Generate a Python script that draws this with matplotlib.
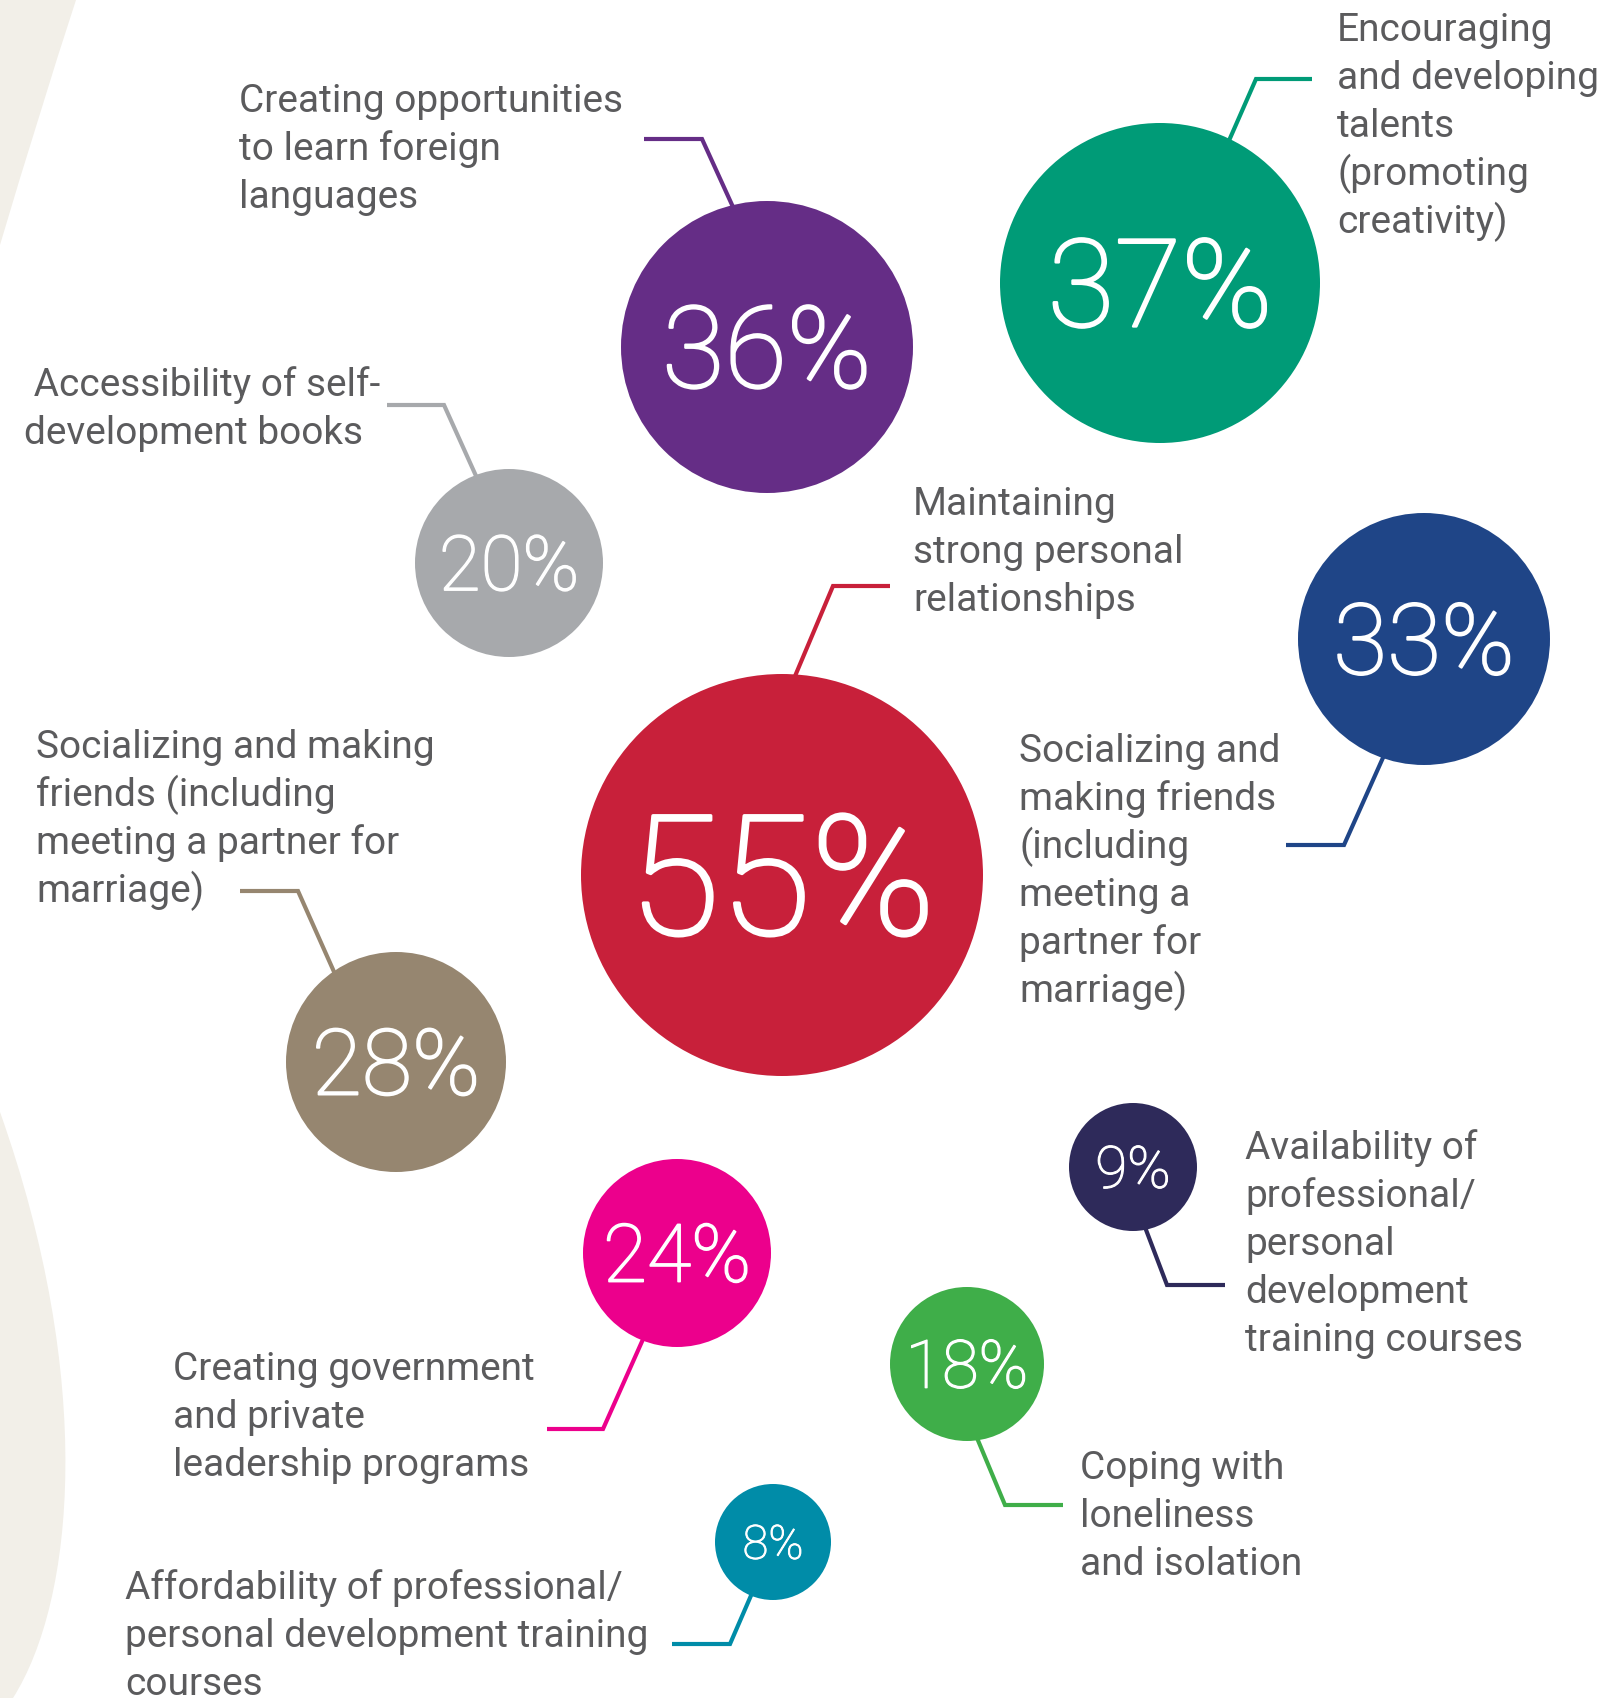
import matplotlib.pyplot as plt
import matplotlib.patheffects as pe
from matplotlib.patches import Circle, PathPatch
from matplotlib.path import Path

# survey shares (%), one bubble each
values = [36, 37, 20, 55, 33, 28, 24, 9, 18, 8]
labels = [
    ["Creating opportunities", "to learn foreign", "languages"],
    ["Encouraging", "and developing", "talents", "(promoting", "creativity)"],
    [" Accessibility of self-", "development books"],
    ["Maintaining", "strong personal", "relationships"],
    ["Socializing and", "making friends", "(including", "meeting a", "partner for", "marriage)"],
    ["Socializing and making", "friends (including", "meeting a partner for", "marriage)"],
    ["Creating government", "and private", "leadership programs"],
    ["Availability of", "professional/", "personal", "development", "training courses"],
    ["Coping with", "loneliness", "and isolation"],
    ["Affordability of professional/", "personal development training", "courses"],
]
colors = ["#652d86", "#009b77", "#a7a9ac", "#c8203a", "#1f4587",
          "#968670", "#ec008c", "#2e2a5a", "#3fae49", "#008ca8"]

# layout in pixels (x right, y down)
centers = [(767, 347), (1160, 283), (509, 563), (782, 875), (1424, 639),
           (396, 1062), (677, 1253), (1133, 1167), (967, 1364), (773, 1542)]
radii = [146, 160, 94, 201, 126, 110, 94, 64, 77, 58]
pct_size = [82, 88, 55, 120, 71, 66, 58, 42, 48, 34]
leaders = [
    [(738, 218), (702, 139), (644, 139)],
    [(1224, 152), (1256, 79), (1312, 79)],
    [(481, 487), (444, 405), (387, 405)],
    [(790, 688), (833, 586), (890, 586)],
    [(1390, 742), (1344, 845), (1286, 845)],
    [(339, 983), (298, 891), (240, 891)],
    [(648, 1328), (603, 1429), (547, 1429)],
    [(1140, 1214), (1167, 1285), (1225, 1285)],
    [(972, 1426), (1005, 1505), (1063, 1505)],
    [(756, 1584), (730, 1644), (672, 1644)],
]
text_pos = [(239, 112), (1337, 41), (24, 396), (913, 515), (1019, 762),
            (36, 758), (173, 1380), (1245, 1159), (1080, 1479), (125, 1599)]
line_gap = 48

W, H = 1621, 1698
fig = plt.figure(figsize=(W / 100, H / 100), dpi=100)
ax = fig.add_axes([0, 0, 1, 1])
ax.set_xlim(0, W)
ax.set_ylim(H, 0)
ax.axis("off")

# beige background swooshes on the left edge
beige = "#f2efe8"
top = Path([(0, 0), (76, 0), (40, 110), (0, 245), (0, 0)],
           [Path.MOVETO, Path.LINETO, Path.CURVE3, Path.CURVE3, Path.CLOSEPOLY])
ax.add_patch(PathPatch(top, fc=beige, ec="none", zorder=0))
bottom = Path([(0, 1112), (95, 1380), (75, 1600), (13, 1698), (0, 1698), (0, 1112)],
              [Path.MOVETO, Path.CURVE4, Path.CURVE4, Path.CURVE4, Path.LINETO, Path.CLOSEPOLY])
ax.add_patch(PathPatch(bottom, fc=beige, ec="none", zorder=0))

for i, v in enumerate(values):
    cx, cy = centers[i]
    xs, ys = zip(*leaders[i])
    ax.plot(xs, ys, color=colors[i], lw=3, solid_joinstyle="miter",
            solid_capstyle="butt", zorder=1)
    ax.add_patch(Circle((cx, cy), radii[i], fc=colors[i], ec="none", zorder=2))
    cap = pct_size[i] / 1.013
    # light face thickened a little with a white outline
    ax.text(cx, cy + cap / 2, f"{v}%", color="white", fontsize=pct_size[i],
            family="Roboto", weight="light", ha="center", va="baseline", zorder=3,
            path_effects=[pe.withStroke(linewidth=pct_size[i] * 0.02, foreground="white")])
    tx, ty = text_pos[i]
    for j, line in enumerate(labels[i]):
        ax.text(tx, ty + j * line_gap, line, color="#5b5b5d", fontsize=28,
                family="Roboto", ha="left", va="baseline", zorder=3)

fig.savefig("out.png", dpi=100)
